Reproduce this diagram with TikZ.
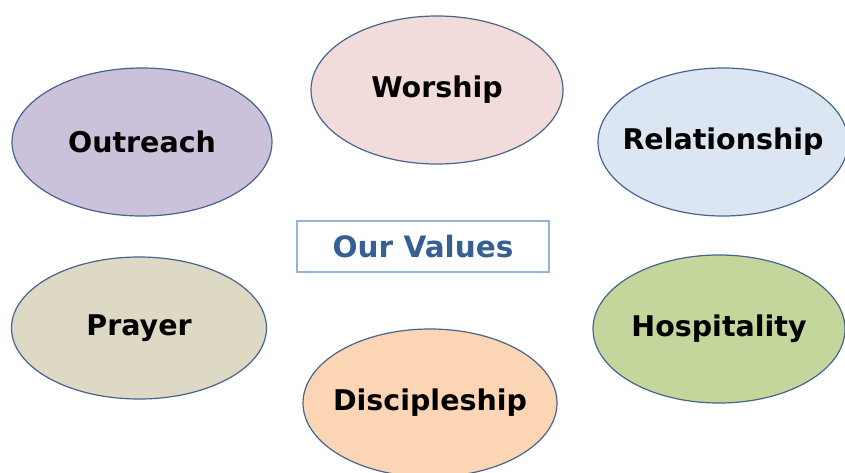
\documentclass[tikz,border=0pt]{standalone}
\usepackage{fontspec}
\setmainfont{DejaVu Sans}
\usetikzlibrary{shapes.geometric}
\definecolor{ovalline}{RGB}{70,100,140}
\definecolor{worshipfill}{RGB}{242,220,219}
\definecolor{outreachfill}{RGB}{204,193,218}
\definecolor{relationfill}{RGB}{220,230,242}
\definecolor{prayerfill}{RGB}{221,217,196}
\definecolor{hospitalfill}{RGB}{195,214,155}
\definecolor{disciplefill}{RGB}{252,213,181}
\definecolor{titleline}{RGB}{149,179,215}
\definecolor{titletext}{RGB}{54,96,146}
\tikzset{
	x=1pt, y=-1pt,
	value/.style={ellipse, draw=ovalline, line width=1.2pt,
		minimum width=252pt, minimum height=148pt, inner sep=-30pt,
		font=\fontsize{28.5}{34}\selectfont\bfseries},
	title/.style={draw=titleline, line width=2pt, minimum width=252pt,
		minimum height=51pt, inner sep=0pt, text=titletext,
		font=\fontsize{29.5}{35}\selectfont\bfseries},
}
\begin{document}
\begin{tikzpicture}
	\useasboundingbox (0,0) rectangle (845,472);
	% the six values round the title
	\node[value, fill=worshipfill] (worship) at (437,90) {Worship};
	\node[value, fill=outreachfill, minimum width=260pt] (outreach) at (142,142) {Outreach};
	\node[value, fill=relationfill, minimum width=250pt] (relation) at (723,142) {Relationship};
	\node[value, fill=prayerfill, minimum width=255pt, minimum height=142pt] (prayer) at (139,328) {Prayer};
	\node[value, fill=hospitalfill] (hospital) at (719,329) {Hospitality};
	\node[value, fill=disciplefill, minimum width=254pt] (disciple) at (430,403) {Discipleship};
	
	\node[title] (values) at (423,246) {Our Values};
\end{tikzpicture}
\end{document}
